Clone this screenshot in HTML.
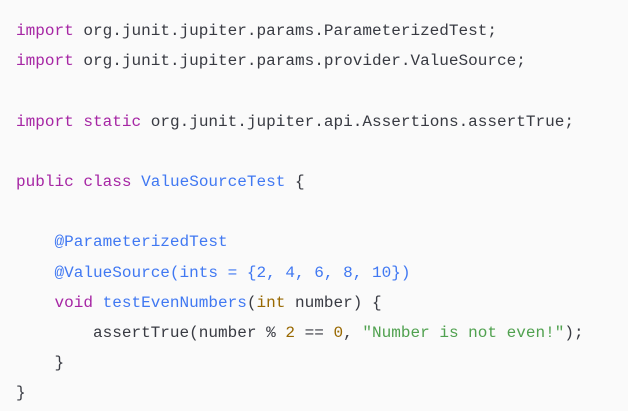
<!DOCTYPE html>
<html><head><style>
html,body{margin:0;padding:0;background:#fafafa;}
body{width:628px;height:411px;overflow:hidden;}
pre{margin:0;padding:16px 0 0 16px;font-family:"Liberation Mono","DejaVu Sans Mono",monospace;font-size:16.05px;line-height:30.2px;color:#383a42;}
.k{color:#a626a4}.b{color:#4078f2}.n{color:#986801}.s{color:#50a14f}
</style></head><body><pre><span class="k">import</span> org.junit.jupiter.params.ParameterizedTest;
<span class="k">import</span> org.junit.jupiter.params.provider.ValueSource;

<span class="k">import</span> <span class="k">static</span> org.junit.jupiter.api.Assertions.assertTrue;

<span class="k">public</span> <span class="k">class</span> <span class="b">ValueSourceTest</span> {

    <span class="b">@ParameterizedTest</span>
    <span class="b">@ValueSource(ints = {2, 4, 6, 8, 10})</span>
    <span class="k">void</span> <span class="b">testEvenNumbers</span>(<span class="n">int</span> number) {
        assertTrue(number % <span class="n">2</span> == <span class="n">0</span>, <span class="s">"Number is not even!"</span>);
    }
}</pre></body></html>
